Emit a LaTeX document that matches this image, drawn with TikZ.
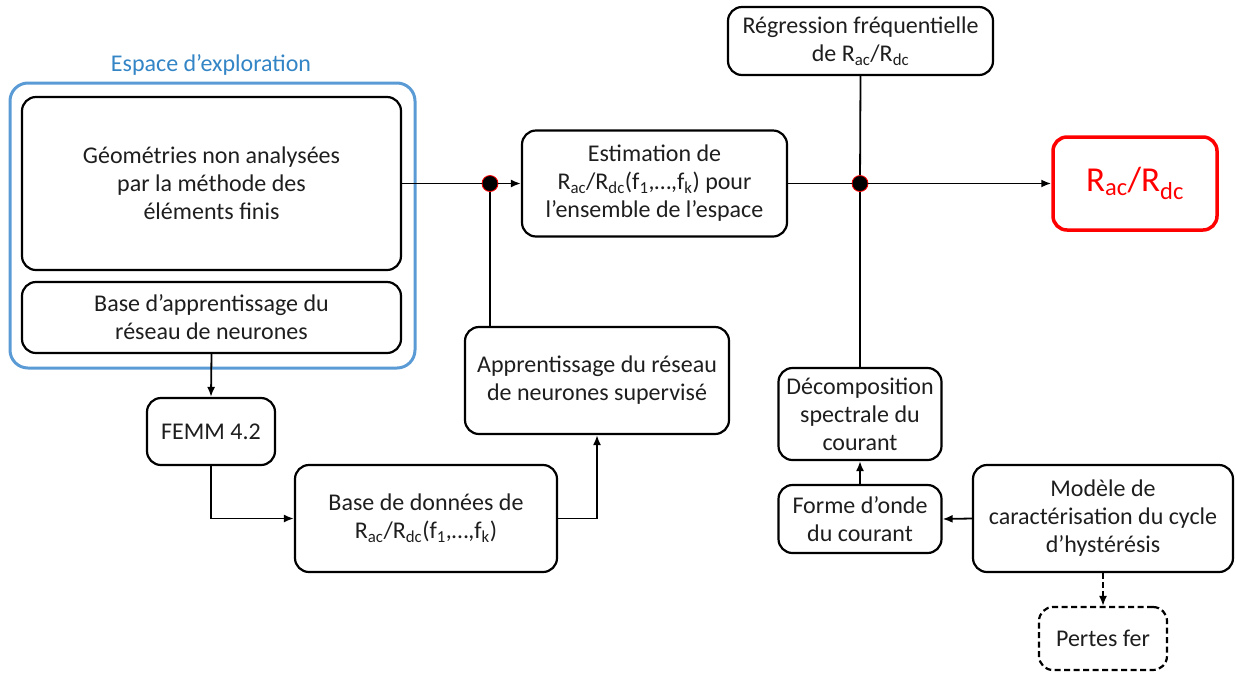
\documentclass[tikz,border=0pt]{standalone}
\usepackage{fontspec}
\setmainfont{Carlito}
\usepackage{xcolor}
\usepackage{tikz}
\usetikzlibrary{arrows.meta, positioning, calc}

\definecolor{txtgray}{HTML}{1E1E1E}
\definecolor{exploblue}{HTML}{5B9BD5}
\definecolor{titleblue}{HTML}{3385C6}
\definecolor{outred}{HTML}{FF0000}

\tikzset{
	blk/.style={draw, line width=2.2pt, rounded corners=14pt, align=center,
		inner sep=0pt, text=txtgray, font=\fontsize{24}{28}\selectfont},
	link/.style={line width=1.8pt},
	arr/.style={link, -{Latex[length=10pt, width=8pt]}},
	junc/.style={circle, fill=black, draw=outred, line width=0.8pt,
		minimum size=16pt, inner sep=0pt},
}

\begin{document}
\begin{tikzpicture}[x=1pt, y=-1pt]
	\useasboundingbox (0,0) rectangle (1236,673);
	% exploration space (blue frame with its two inner blocks)
	\node[draw=exploblue, line width=3pt, rounded corners=18pt,
		minimum width=405pt, minimum height=285pt] (explo) at (212.5,225.5) {};
	\node[text=titleblue, font=\fontsize{24}{28}\selectfont] (explotitle) at (211,65) {Espace d’exploration};
	\node[blk, minimum width=379pt, minimum height=173pt] (geo) at (211.5,183.5)
		{Géométries non analysées\\par la méthode des\\éléments finis};
	\node[blk, minimum width=379pt, minimum height=71pt] (baseapp) at (211.5,317.5)
		{Base d’apprentissage du\\réseau de neurones};
	% learning chain
	\node[blk, minimum width=128pt, minimum height=67pt] (femm) at (211,431.5) {FEMM 4.2};
	\node[blk, minimum width=262pt, minimum height=107pt] (bdd) at (426,518.5)
		{Base de données de\\R\textsubscript{ac}/R\textsubscript{dc}(f\textsubscript{1},…,f\textsubscript{k})};
	\node[blk, minimum width=264pt, minimum height=107pt] (appr) at (597,380.5)
		{Apprentissage du réseau\\de neurones supervisé};
	\node[blk, minimum width=265pt, minimum height=106pt] (estim) at (654.5,183.5)
		{Estimation de\\R\textsubscript{ac}/R\textsubscript{dc}(f\textsubscript{1},…,f\textsubscript{k}) pour\\l’ensemble de l’espace};
	% frequency side
	\node[blk, minimum width=265pt, minimum height=68pt] (regr) at (860.5,41)
		{Régression fréquentielle\\de R\textsubscript{ac}/R\textsubscript{dc}};
	\node[blk, draw=outred, line width=3.5pt, text=outred, font=\fontsize{35}{40}\selectfont,
		minimum width=164pt, minimum height=93pt] (rout) at (1135,183.5)
		{R\textsubscript{ac}/R\textsubscript{dc}};
	\node[blk, minimum width=163pt, minimum height=92pt] (decomp) at (860,414)
		{Décomposition\\spectrale du\\courant};
	\node[blk, minimum width=163pt, minimum height=68pt] (forme) at (860,519)
		{Forme d’onde\\du courant};
	\node[blk, minimum width=260pt, minimum height=107pt] (modele) at (1103,518.5)
		{Modèle de\\caractérisation du cycle\\d’hystérésis};
	\node[blk, dash pattern=on 6pt off 3.5pt, minimum width=128pt, minimum height=63pt] (pertes) at (1103,638.5)
		{Pertes fer};
	% junctions
	\node[junc] (j1) at (490,183.5) {};
	\node[junc] (j2) at (860,183.5) {};

	\draw[link] (geo.east) -- (j1);
	\draw[arr] (j1) -- (estim.west);
	\draw[link] (j1 |- appr.north) -- (j1);
	\draw[arr] (baseapp.south) -- (femm.north);
	\draw[arr] (femm.south) |- (bdd.west);
	\draw[arr] (bdd.east) -| (appr.south);
	\draw[link] (estim.east) -- (j2);
	\draw[arr] (j2) -- (rout.west);
	\draw[link] (regr.south) -- (j2);
	\draw[link] (j2) -- (decomp.north);
	\draw[arr] (forme.north) -- (decomp.south);
	\draw[arr] (modele.west) -- (forme.east);
	\draw[arr, dash pattern=on 6pt off 3pt] (modele.south) -- (pertes.north);
\end{tikzpicture}
\end{document}
